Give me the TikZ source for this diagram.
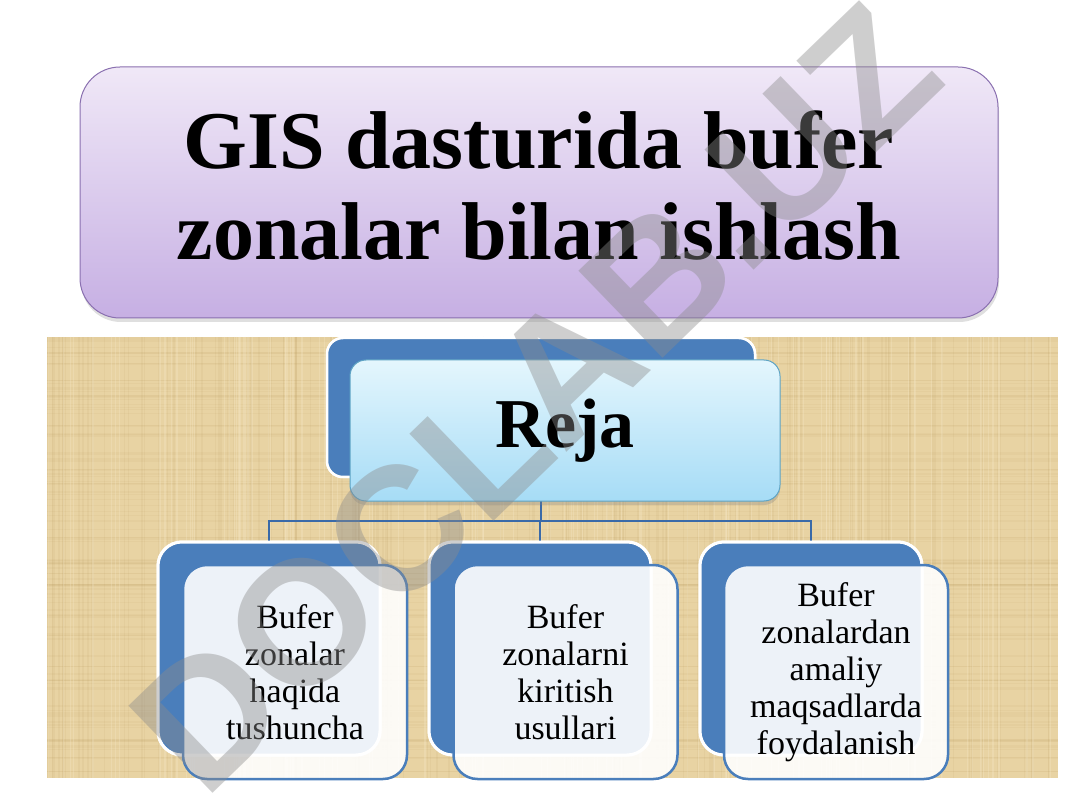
\documentclass[tikz,border=0pt]{standalone}
\usepackage{fontspec}
\setmainfont{Liberation Serif}
\setsansfont{Liberation Sans}
\usetikzlibrary{shadows}
\definecolor{beige}{HTML}{E8D3A3}
\definecolor{texdark}{HTML}{B8995A}
\definecolor{texlight}{HTML}{F6E9C8}
\definecolor{pbTop}{HTML}{F0E8F7}
\definecolor{pbBot}{HTML}{C6AFE3}
\definecolor{pbBorder}{HTML}{8A70B0}
\definecolor{bluebox}{HTML}{4A7EBB}
\definecolor{cyanTop}{HTML}{E4F6FD}
\definecolor{cyanBot}{HTML}{A6DCF6}
\definecolor{cyanBorder}{HTML}{5DA3C4}
\definecolor{connc}{HTML}{3A6AA8}
\definecolor{wm}{HTML}{8C8C8C}
\begin{document}
\begin{tikzpicture}[x=1pt,y=-1pt,
  titlebox/.style={draw=pbBorder, line width=1pt, top color=pbTop, bottom color=pbBot,
    rounded corners=40pt, minimum width=918pt, minimum height=251pt, inner sep=0pt,
    drop shadow={opacity=0.25, shadow xshift=1pt, shadow yshift=-4pt}},
  titletext/.style={inner sep=0pt, align=center, font=\bfseries\fontsize{82}{91}\selectfont},
  rejaback/.style={draw=white, line width=2.5pt, fill=bluebox, rounded corners=16pt,
    minimum width=428pt, minimum height=139pt, inner sep=0pt},
  rejafront/.style={draw=cyanBorder, line width=1pt, top color=cyanTop, bottom color=cyanBot,
    rounded corners=16pt, minimum width=430pt, minimum height=141pt, inner sep=0pt,
    font=\bfseries\fontsize{70}{80}\selectfont,
    drop shadow={opacity=0.3, shadow xshift=0pt, shadow yshift=-4pt}},
  childback/.style={draw=white, line width=3pt, fill=bluebox, rounded corners=24pt,
    minimum width=222pt, minimum height=213pt, inner sep=0pt},
  childfront/.style={draw=bluebox, line width=2.5pt, fill=white, fill opacity=0.9,
    text opacity=1, rounded corners=24pt, minimum width=224pt, minimum height=214pt,
    inner sep=0pt, align=center, font=\fontsize{34}{37}\selectfont},
  conn/.style={draw=connc, line width=2.5pt},
  watermark/.style={text=wm, opacity=0.42, rotate=44, inner sep=0pt,
    font=\sffamily\bfseries\fontsize{176}{176}\selectfont}
]
\useasboundingbox (0,0) rectangle (1080,810);
\fill[white] (0,0) rectangle (1080,810);

% textured panel
\begin{scope}
  \clip (47,337) rectangle (1058,778);
  \fill[beige] (47,337) rectangle (1058,778);
  \pgfmathsetseed{11}
  \foreach \i in {1,...,160}{
    \pgfmathsetmacro\xx{47+rnd*1011}
    \pgfmathsetmacro\ww{0.5+rnd*1.8}
    \draw[texdark, opacity=0.09, line width=\ww pt] (\xx,337) -- (\xx,778);
  }
  \foreach \i in {1,...,110}{
    \pgfmathsetmacro\yy{337+rnd*441}
    \pgfmathsetmacro\ww{0.5+rnd*1.8}
    \draw[texdark, opacity=0.08, line width=\ww pt] (47,\yy) -- (1058,\yy);
  }
  \foreach \i in {1,...,110}{
    \pgfmathsetmacro\xx{47+rnd*1011}
    \draw[texlight, opacity=0.3, line width=1.2pt] (\xx,337) -- (\xx,778);
  }
\end{scope}

% title
\node[titlebox] (title) at (539,192.5) {};
\node[titletext] (titlet) at (539,186) {GIS dasturida bufer\\zonalar bilan ishlash};

% plan boxes
\node[rejaback] (rejab) at (541,407.5) {};
\node[childback] (c1b) at (269,648.5) {};
\node[childback] (c2b) at (540,648.5) {};
\node[childback] (c3b) at (811,648.5) {};

\coordinate (bus) at (541,521);
\draw[conn] (rejab.south) -- (rejab.south |- bus) -| (c1b.north);
\draw[conn] (rejab.south) -- (rejab.south |- bus) -| (c2b.north);
\draw[conn] (rejab.south) -- (rejab.south |- bus) -| (c3b.north);

\node[rejaback] at (541,407.5) {};
\node[childback] at (269,648.5) {};
\node[childback] at (540,648.5) {};
\node[childback] at (811,648.5) {};

\node[rejafront] (reja) at (565,430.5) {Reja};
\node[childfront] (c1) at (295,672) {Bufer\\zonalar\\haqida\\tushuncha};
\node[childfront] (c2) at (565.5,672) {Bufer\\zonalarni\\kiritish\\usullari};
\node[childfront] (c3) at (836,672) {Bufer\\zonalardan\\amaliy\\maqsadlarda\\foydalanish};

% watermark
\node[watermark] (wmark) at (535,398) {DOCLAB.UZ};
\end{tikzpicture}
\end{document}
